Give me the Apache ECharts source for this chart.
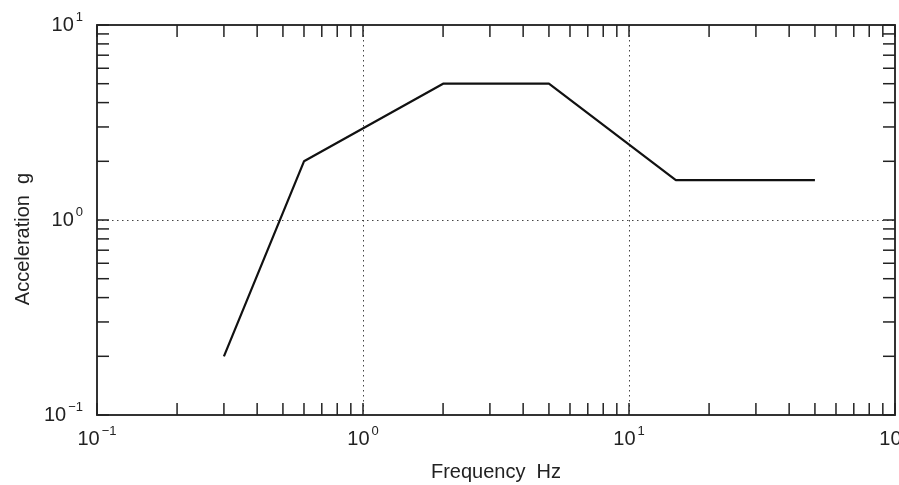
<!DOCTYPE html>
<html>
<head>
<meta charset="utf-8">
<script src="https://cdn.jsdelivr.net/npm/echarts@6/dist/echarts.min.js"></script>
<style>
  html, body { margin: 0; padding: 0; background: #fff; }
  #chart { width: 899px; height: 485px; }
</style>
</head>
<body>
<div id="chart"></div>
<script>
// Shock response envelope: acceleration versus frequency, log-log
const freqHz = [0.3, 0.6, 2, 5, 15, 50];
const accelG = [0.2, 2, 5, 5, 1.6, 1.6];

// Axis ranges (decades)
const xRange = [0.1, 100];
const yRange = [0.1, 10];

// Minor tick values within each decade
const xMinorTicks = [0.2, 0.3, 0.4, 0.5, 0.6, 0.7, 0.8, 0.9,
                     2, 3, 4, 5, 6, 7, 8, 9,
                     20, 30, 40, 50, 60, 70, 80, 90];
const yMinorTicks = [0.2, 0.3, 0.4, 0.5, 0.6, 0.7, 0.8, 0.9,
                     2, 3, 4, 5, 6, 7, 8, 9];

const xTitle = 'Frequency  Hz';
const yTitle = 'Acceleration  g';

const FONT = '"Liberation Sans", Arial, Helvetica, sans-serif';
const INK = '#222';
const TICK_LEN = 12;

// "10" with a raised exponent
const powerLabel = {
  b: { fontFamily: FONT, fontSize: 20, lineHeight: 20, color: INK, verticalAlign: 'bottom' },
  s: { fontFamily: FONT, fontSize: 13, color: INK, verticalAlign: 'top', padding: [0, 0, 11, 2] }
};
function powerOfTen(v) {
  const e = Math.round(Math.log10(v));
  return '{b|10}{s|' + (e < 0 ? '\u2212' + (-e) : e) + '}';
}

const dotted = { color: '#444', width: 1, type: [1.5, 3.5] };
const lineStyleAxis = { color: '#333', width: 2 };
const tickStyle = { color: INK, width: 1.5 };

const chart = echarts.init(document.getElementById('chart'), null, { renderer: 'canvas' });

chart.setOption({
  animation: false,
  backgroundColor: '#fff',
  grid: { left: 97, right: 4, top: 25, bottom: 70, containLabel: false, outerBoundsMode: 'none' },
  xAxis: [
    {
      type: 'log', logBase: 10, min: xRange[0], max: xRange[1], position: 'bottom',
      axisLine: { show: true, lineStyle: lineStyleAxis },
      axisTick: { show: true, inside: true, length: TICK_LEN, lineStyle: tickStyle },
      axisLabel: { show: true, margin: 10, formatter: powerOfTen, rich: powerLabel, showMinLabel: true, showMaxLabel: true, hideOverlap: false },
      splitLine: { show: true, lineStyle: dotted },
      minorTick: { show: false }, minorSplitLine: { show: false },
      name: xTitle, nameLocation: 'middle', nameGap: 47,
      nameTextStyle: { fontFamily: FONT, fontSize: 20, color: INK }
    },
    {
      type: 'log', logBase: 10, min: xRange[0], max: xRange[1], position: 'top',
      axisLine: { show: true, lineStyle: lineStyleAxis },
      axisTick: { show: true, inside: true, length: TICK_LEN, lineStyle: tickStyle },
      axisLabel: { show: false }, splitLine: { show: false }
    }
  ],
  yAxis: [
    {
      type: 'log', logBase: 10, min: yRange[0], max: yRange[1], position: 'left',
      axisLine: { show: true, lineStyle: lineStyleAxis },
      axisTick: { show: true, inside: true, length: TICK_LEN, lineStyle: tickStyle },
      axisLabel: { show: true, margin: 14, padding: [0, 0, 4, 0], formatter: powerOfTen, rich: powerLabel, showMinLabel: true, showMaxLabel: true, hideOverlap: false },
      splitLine: { show: true, lineStyle: dotted },
      minorTick: { show: false }, minorSplitLine: { show: false },
      name: yTitle, nameLocation: 'middle', nameGap: 64,
      nameTextStyle: { fontFamily: FONT, fontSize: 20, color: INK, padding: [0, 38, 0, 0] }
    },
    {
      type: 'log', logBase: 10, min: yRange[0], max: yRange[1], position: 'right',
      axisLine: { show: true, lineStyle: lineStyleAxis },
      axisTick: { show: true, inside: true, length: TICK_LEN, lineStyle: tickStyle },
      axisLabel: { show: false }, splitLine: { show: false }
    }
  ],
  series: [
    {
      // minor ticks along the bottom and top edges
      type: 'custom', xAxisIndex: 0, yAxisIndex: 0, silent: true, clip: false, z: 3,
      data: xMinorTicks.map(v => [v, yRange[0]]),
      renderItem: function (params, api) {
        const v = api.value(0);
        const b = api.coord([v, yRange[0]]);
        const t = api.coord([v, yRange[1]]);
        const style = { stroke: INK, lineWidth: 1.5 };
        return {
          type: 'group',
          children: [
            { type: 'line', shape: { x1: b[0], y1: b[1], x2: b[0], y2: b[1] - TICK_LEN }, style },
            { type: 'line', shape: { x1: t[0], y1: t[1], x2: t[0], y2: t[1] + TICK_LEN }, style }
          ]
        };
      }
    },
    {
      // minor ticks along the left and right edges
      type: 'custom', xAxisIndex: 0, yAxisIndex: 0, silent: true, clip: false, z: 3,
      data: yMinorTicks.map(v => [xRange[0], v]),
      renderItem: function (params, api) {
        const v = api.value(1);
        const l = api.coord([xRange[0], v]);
        const r = api.coord([xRange[1], v]);
        const style = { stroke: INK, lineWidth: 1.5 };
        return {
          type: 'group',
          children: [
            { type: 'line', shape: { x1: l[0], y1: l[1], x2: l[0] + TICK_LEN, y2: l[1] }, style },
            { type: 'line', shape: { x1: r[0], y1: r[1], x2: r[0] - TICK_LEN, y2: r[1] }, style }
          ]
        };
      }
    },
    {
      type: 'line', xAxisIndex: 0, yAxisIndex: 0, z: 4,
      data: freqHz.map((f, i) => [f, accelG[i]]),
      showSymbol: false, symbol: 'none',
      lineStyle: { color: '#111', width: 2.2 }
    }
  ]
});
</script>
</body>
</html>
